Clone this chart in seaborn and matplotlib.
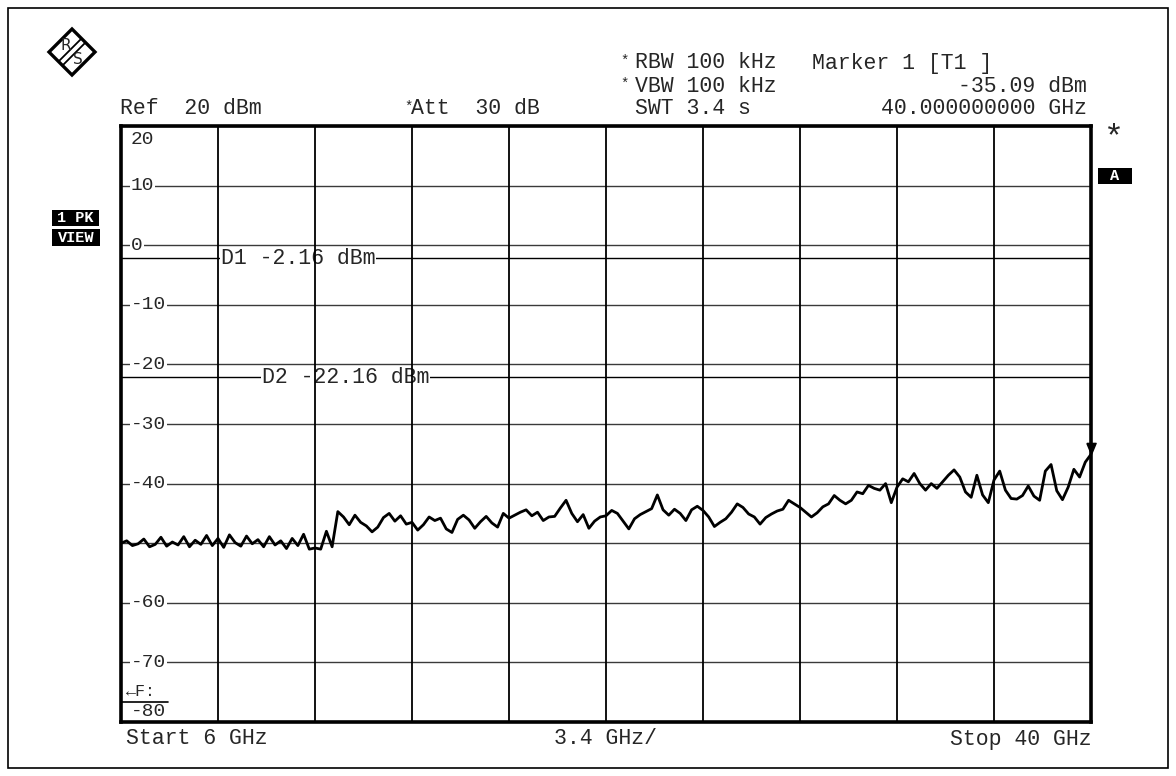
"""
Spectrum analyser screen dump (R&S), 6-40 GHz sweep with display lines D1 / D2.
values read off the printed trace by eye
"""
import numpy as np
import matplotlib.pyplot as plt
import seaborn as sns
from matplotlib.patches import Rectangle, Polygon

start_ghz = 6
stop_ghz = 40
span_per_div = 3.4
ref_dbm = 20
bottom_dbm = -80

d1_dbm = -2.16
d2_dbm = -22.16
marker_ghz = 40.0
marker_dbm = -35.09

# trace, 17 points per division
trace_dbm = [
    -50.0, -49.6, -50.4, -50.1, -49.3, -50.6, -50.2, -49.0, -50.5, -49.8, -50.3, -48.9, -50.6, -49.5, -50.2, -48.7, -50.4,
    -49.2, -50.7, -48.6, -49.9, -50.5, -48.8, -50.1, -49.4, -50.6, -48.9, -50.3, -49.6, -50.9, -49.2, -50.4, -48.5, -51.0,
    -50.8, -51.0, -48.0, -50.6, -44.7, -45.6, -46.9, -45.3, -46.5, -47.1, -48.1, -47.3, -45.7, -45.0, -46.3, -45.4, -46.8,
    -46.5, -47.8, -46.9, -45.6, -46.2, -45.8, -47.6, -48.2, -46.0, -45.3, -46.1, -47.5, -46.4, -45.5, -46.6, -47.3, -45.0,
    -45.8, -45.3, -44.8, -44.4, -45.4, -44.8, -46.2, -45.6, -45.5, -44.1, -42.8, -45.0, -46.4, -45.2, -47.5, -46.3, -45.6,
    -45.4, -44.5, -45.0, -46.3, -47.6, -45.9, -45.2, -44.7, -44.2, -41.9, -44.4, -45.3, -44.3, -45.0, -46.2, -44.4, -43.8,
    -44.5, -45.6, -47.2, -46.5, -45.9, -44.8, -43.4, -44.0, -45.1, -45.6, -46.8, -45.7, -45.1, -44.6, -44.3, -42.8, -43.4,
    -44.0, -44.8, -45.6, -44.9, -43.9, -43.4, -42.0, -42.8, -43.4, -42.8, -41.4, -41.7, -40.3, -40.8, -41.1, -40.0, -43.2,
    -40.6, -39.2, -39.7, -38.3, -40.0, -41.1, -40.0, -40.8, -39.7, -38.6, -37.7, -38.9, -41.4, -42.3, -38.6, -41.9, -43.2,
    -39.4, -37.9, -41.1, -42.5, -42.6, -42.0, -40.4, -42.1, -42.8, -37.9, -36.8, -41.2, -42.7, -40.6, -37.6, -38.9, -36.4,
    -35.09,
]
freq_ghz = np.linspace(start_ghz, stop_ghz, len(trace_dbm))

ytick_vals = [20, 10, 0, -10, -20, -30, -40, -50, -60, -70, -80]
ytick_labels = ["20", "10", "0", "-10", "-20", "-30", "-40", "", "-60", "-70", "-80"]
xtick_vals = [start_ghz + span_per_div * i for i in range(11)]

sns.set_style("white")
plt.rcParams['font.family'] = ['Liberation Mono', 'DejaVu Sans']

W, H = 1176, 776
fig = plt.figure(figsize=(W / 100, H / 100), dpi=100)
ax = fig.add_axes([121 / W, 1 - 722 / H, 970 / W, 596 / H])


def fx(x):
    return x / W


def fy(y):
    return 1 - y / H


sns.lineplot(x=freq_ghz, y=trace_dbm, ax=ax, color='black', linewidth=2.0, zorder=5)

# marker 1, tip sitting on the trace
tri = [(-0.5, 1.2), (0.5, 1.2), (0, 0), (-0.5, 1.2)]
ax.plot([marker_ghz], [marker_dbm], marker=tri, ms=16, color='black', clip_on=False, zorder=6)

ax.set_xlim(start_ghz, stop_ghz)
ax.set_ylim(bottom_dbm, ref_dbm)
ax.set_xticks(xtick_vals)
ax.set_yticks(ytick_vals)
ax.tick_params(length=0, labelbottom=False, labelleft=False)
ax.set_xlabel('')
ax.set_ylabel('')
ax.grid(True, axis='x', color='black', linewidth=1.3)
ax.grid(True, axis='y', color='#3a3a3a', linewidth=1.0)
ax.yaxis.set_zorder(0.5)
ax.xaxis.set_zorder(3)
for sp in ax.spines.values():
    sp.set_color('black')
    sp.set_linewidth(2.6)
    sp.set_zorder(7)

# display lines
ax.axhline(d1_dbm, color='black', linewidth=1.0, zorder=1.5)
ax.axhline(d2_dbm, color='black', linewidth=1.0, zorder=1.5)
white = dict(facecolor='white', edgecolor='none', pad=0.5)
ax.annotate(f"D1 {d1_dbm:.2f} dBm", (start_ghz + span_per_div, d1_dbm), xytext=(3, 0),
            textcoords='offset pixels', va='center', ha='left', fontsize=15.5, bbox=white, zorder=2)
ax.annotate(f"D2 {d2_dbm:.2f} dBm", (start_ghz + span_per_div, d2_dbm), xytext=(44, 0),
            textcoords='offset pixels', va='center', ha='left', fontsize=15.5, bbox=white, zorder=2)

# level labels printed inside the graticule
for val, lab in zip(ytick_vals, ytick_labels):
    if not lab:
        continue
    dy = 0
    if val == ref_dbm:
        dy = -14
    elif val == bottom_dbm:
        dy = 11
    ax.annotate(lab, (start_ghz, val), xytext=(10, dy), textcoords='offset pixels',
                va='center', ha='left', fontsize=14, bbox=white, zorder=2)

ax.annotate("\u2190F:", (start_ghz, bottom_dbm), xytext=(5, 31), textcoords='offset pixels',
            va='center', ha='left', fontsize=12, zorder=2)
ax.axhline(bottom_dbm + 20 / 5.96, xmin=0, xmax=0.048, color='black', linewidth=1.2, zorder=2.5)

# header
hdr = dict(fontsize=15.5, va='center')
fig.text(fx(120), fy(109), "Ref  20 dBm", ha='left', **hdr)
fig.text(fx(404), fy(107), "*", ha='left', fontsize=10, va='center')
fig.text(fx(411), fy(109), "Att  30 dB", ha='left', **hdr)
fig.text(fx(620), fy(61), "*", ha='left', fontsize=10, va='center')
fig.text(fx(635), fy(63), "RBW 100 kHz", ha='left', **hdr)
fig.text(fx(620), fy(84), "*", ha='left', fontsize=10, va='center')
fig.text(fx(635), fy(86), "VBW 100 kHz", ha='left', **hdr)
fig.text(fx(635), fy(109), "SWT 3.4 s", ha='left', **hdr)
fig.text(fx(812), fy(63), "Marker 1 [T1 ]", ha='left', **hdr)
fig.text(fx(1087), fy(86), f"{marker_dbm:.2f} dBm", ha='right', **hdr)
fig.text(fx(1087), fy(109), f"{marker_ghz:.9f} GHz", ha='right', **hdr)

# footer
fig.text(fx(126), fy(739), f"Start {start_ghz} GHz", ha='left', **hdr)
fig.text(fx(605), fy(739), f"{span_per_div} GHz/", ha='center', **hdr)
fig.text(fx(1092), fy(739), f"Stop {stop_ghz} GHz", ha='right', **hdr)

# side boxes
for (x0, y0, x1, y1, txt) in [(52, 210, 99, 226, "1 PK"), (52, 229, 100, 246, "VIEW"),
                              (1098, 168, 1132, 184, "A")]:
    fig.add_artist(Rectangle((fx(x0), fy(y1)), fx(x1) - fx(x0), fy(y0) - fy(y1),
                             transform=fig.transFigure, facecolor='black', edgecolor='none'))
    fig.text(fx((x0 + x1) / 2), fy((y0 + y1) / 2), txt, ha='center', va='center',
             color='white', fontsize=11, fontweight='bold')
fig.text(fx(1114), fy(138), "*", ha='center', va='center', fontsize=24)

# R&S logo
cx, cy, r = 72, 52, 23
fig.add_artist(Polygon([(fx(cx), fy(cy - r)), (fx(cx + r), fy(cy)), (fx(cx), fy(cy + r)), (fx(cx - r), fy(cy))],
                       closed=True, transform=fig.transFigure, facecolor='none', edgecolor='black', linewidth=2.4))
for off in (-2, 2):
    fig.add_artist(plt.Line2D([fx(cx - 11 + off), fx(cx + 11 + off)], [fy(cy + 11 + off), fy(cy - 11 + off)],
                              transform=fig.transFigure, color='black', linewidth=1.3))
fig.text(fx(cx - 6), fy(cy - 6), "R", ha='center', va='center', fontsize=11, family='DejaVu Sans')
fig.text(fx(cx + 6), fy(cy + 7), "S", ha='center', va='center', fontsize=11, family='DejaVu Sans')

# page frame
fig.add_artist(Rectangle((fx(8), fy(768)), fx(1168) - fx(8), fy(8) - fy(768),
                         transform=fig.transFigure, facecolor='none', edgecolor='black', linewidth=1.2))

fig.savefig('out.png', dpi=100, facecolor='white')
